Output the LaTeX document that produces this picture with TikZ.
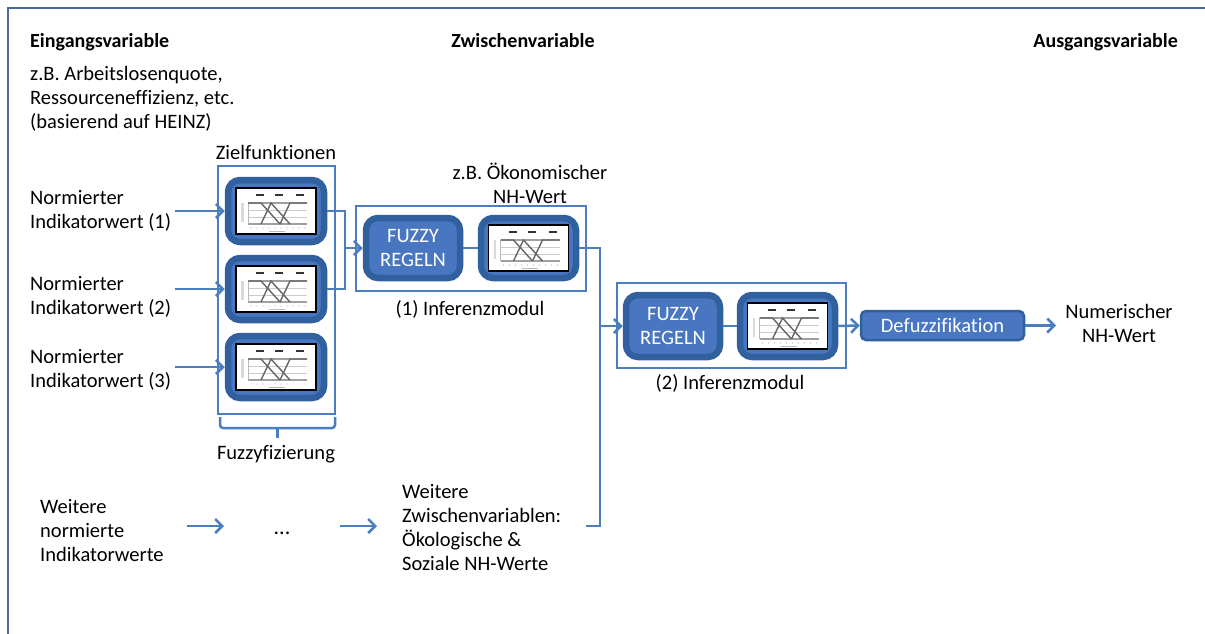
\documentclass[tikz,border=0pt]{standalone}
\usepackage{fontspec}
\setmainfont{Carlito}[Ligatures=NoCommon]
\usetikzlibrary{arrows.meta}

\definecolor{framecol}{HTML}{4A6A9C}
\definecolor{linecol}{HTML}{4A7EBF}
\definecolor{boxfill}{HTML}{4876C0}
\definecolor{boxedge}{HTML}{30609E}

\tikzset{
  txt/.style={font=\fontsize{20.5}{24}\selectfont, inner sep=0pt, align=left, text=black},
  hdr/.style={font=\fontsize{20}{24}\selectfont\bfseries, inner sep=0pt},
  wtxt/.style={font=\fontsize{20.5}{24}\selectfont, inner sep=0pt, align=center, text=white},
  container/.style={draw=linecol, line width=1.5, inner sep=0pt},
  bluebox/.style={draw=boxedge, fill=boxfill, line width=6.5, rounded corners=12, inner sep=0pt},
  flatbox/.style={draw=boxedge, fill=boxfill, line width=2.5, rounded corners=5, inner sep=0pt},
  conn/.style={draw=linecol, line width=2.5},
  arr/.style={conn, -{Straight Barb[length=7, width=14, line width=2.5]}},
  % small membership-function chart shown inside the blue boxes
  mfplot/.pic={
    \fill[white] (-40,-23) rectangle (40,23);
    \draw[gray!40, line width=0.7] (-28,-1) -- (31,-1);
    \draw[gray!40, line width=0.7] (-28,6) -- (31,6);
    \draw[gray!75, line width=1.4] (-28,-8) -- (31,-8);
    \draw[gray!75, line width=1.1] (-28,13) -- (31,13);
    \draw[gray!55, line width=0.7] (-28,-8) -- (-28,13);
    \fill[gray!30] (-35,-8) rectangle (-32.5,11);
    \foreach \u in {-16,3,24} \draw[black!80, line width=1.6] (\u-4,-16) -- (\u+4,-16);
    \foreach \u in {-25,-19,...,29} \fill[gray!60] (\u,17) circle (0.7);
    \draw[gray!55, line width=1] (-7,20) -- (9,20);
    \draw[black!60, line width=1.4] (-28,-8) -- (-15,-8) -- (4,13);
    \draw[black!60, line width=1.4] (-15,13) -- (-5,-8) -- (14,13);
    \draw[black!60, line width=1.4] (4,13) -- (14,-8) -- (31,-8);
    \draw[black, line width=1.3] (-40,-23) rectangle (40,23);
  }
}

\begin{document}
\begin{tikzpicture}[x=1pt, y=-1pt]
\useasboundingbox (0,0) rectangle (1205,633);

% outer frame
\draw[draw=framecol, line width=2] (8,640) -- (8,8) -- (1210,8);

% column headers
\node[hdr, anchor=base west] (hin) at (30,47) {Eingangsvariable};
\node[hdr, anchor=base] (hmid) at (523,47) {Zwischenvariable};
\node[hdr, anchor=base east] (hout) at (1178,47) {Ausgangsvariable};

% multi-line texts are placed by the baseline of their last line
\node[txt, anchor=base west] (bsp) at (30,128) {z.B. Arbeitslosenquote,\\Ressourceneffizienz, etc.\\(basierend auf HEINZ)};

% fuzzification stage
\node[container, minimum width=117, minimum height=248] (fz) at (276.5,290) {};
\node[txt, anchor=base] (zf) at (276,159) {Zielfunktionen};
\node[bluebox, minimum width=96, minimum height=62] (zf1) at (276,211) {};
\node[bluebox, minimum width=96, minimum height=62] (zf2) at (276,289) {};
\node[bluebox, minimum width=96, minimum height=62] (zf3) at (276,367) {};
\pic at (zf1) {mfplot};
\pic at (zf2) {mfplot};
\pic at (zf3) {mfplot};

\draw[draw=linecol, line width=2.5, rounded corners=3] (220,417) -- (220,428) -- (335,428) -- (335,417);
\draw[draw=linecol, line width=2.5] (277.5,428) -- (277.5,438);
\node[txt, anchor=base] (fzl) at (276,459) {Fuzzyfizierung};

% normalised indicator inputs
\node[txt, anchor=base west] (in1) at (30,228) {Normierter\\Indikatorwert (1)};
\node[txt, anchor=base west] (in2) at (30,314) {Normierter\\Indikatorwert (2)};
\node[txt, anchor=base west] (in3) at (30,387) {Normierter\\Indikatorwert (3)};
\draw[arr] (175,211) -- (zf1.west);
\draw[arr] (175,289) -- (zf2.west);
\draw[arr] (175,367) -- (zf3.west);

% first inference module
\node[container, minimum width=230, minimum height=85] (inf1) at (471,248.5) {};
\node[bluebox, minimum width=94, minimum height=60, wtxt] (fr1) at (413,248) {FUZZY\\REGELN};
\node[bluebox, minimum width=95, minimum height=60] (mf1) at (528.5,248) {};
\pic at (mf1) {mfplot};
\draw[conn] (fr1.east) -- (mf1.west);
\node[txt, align=center, anchor=base] (oek) at (530,203) {z.B. Ökonomischer\\NH-Wert};
\node[txt, anchor=base] (inf1l) at (470,315) {(1) Inferenzmodul};

\coordinate (j0) at (345,248);
\draw[conn] (zf1.east) -| (j0);
\draw[conn] (zf2.east) -| (j0);
\draw[arr] (j0) -- (fr1.west);

% second inference module
\node[container, minimum width=229, minimum height=85] (inf2) at (731.5,325.5) {};
\node[bluebox, minimum width=94, minimum height=62, wtxt] (fr2) at (673,326) {FUZZY\\REGELN};
\node[bluebox, minimum width=95, minimum height=62] (mf2) at (787.5,326) {};
\pic at (mf2) {mfplot};
\draw[conn] (fr2.east) -- (mf2.west);
\node[txt, anchor=base] (inf2l) at (730,389) {(2) Inferenzmodul};

\coordinate (j1) at (600,248);
\coordinate (zwend) at (586,526);
\draw[conn] (mf1.east) -- (j1) |- (zwend);
\draw[arr] (fr2.west -| j1) -- (fr2.west);

% defuzzification and output
\node[flatbox, minimum width=163, minimum height=29, wtxt] (dz) at (942.5,325.5) {Defuzzifikation};
\draw[arr] (mf2.east) -- (dz.west);
\coordinate (outp) at (1056,325.5);
\draw[arr] (dz.east) -- (outp);
\node[txt, align=center, anchor=base] (num) at (1119,342) {Numerischer\\NH-Wert};

% further indicators
\node[txt, anchor=base west] (wt) at (40,561) {Weitere\\normierte\\Indikatorwerte};
\node[txt, anchor=base, font=\fontsize{22}{24}\selectfont] (dots) at (282,534) {...};
\node[txt, anchor=base west] (zwv) at (402,570) {Weitere\\Zwischenvariablen:\\Ökologische \&\\Soziale NH-Werte};
\coordinate (a1s) at (187,526);
\coordinate (a1e) at (224,526);
\coordinate (a2s) at (340,526);
\coordinate (a2e) at (377,526);
\draw[arr] (a1s) -- (a1e);
\draw[arr] (a2s) -- (a2e);
\end{tikzpicture}
\end{document}
